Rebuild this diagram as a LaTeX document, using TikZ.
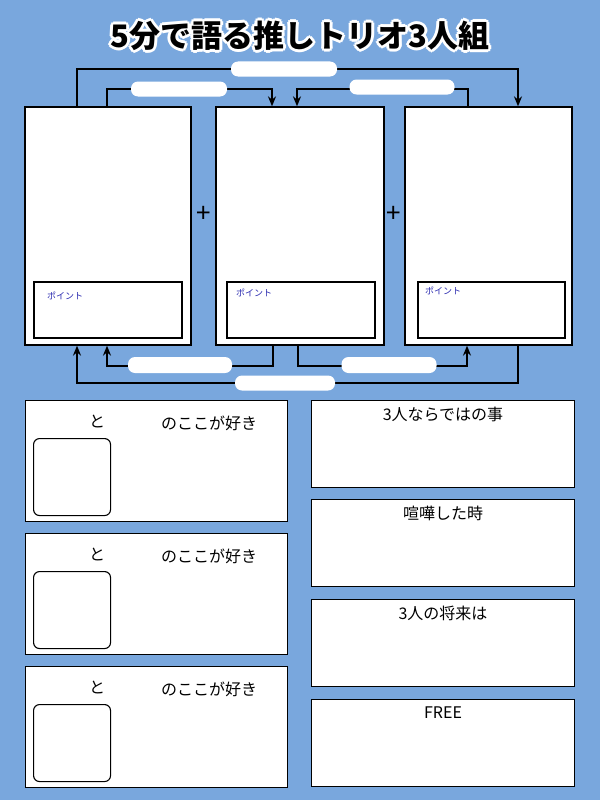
\documentclass[tikz,border=0pt]{standalone}
\usepackage{fontspec}
\setmainfont{Noto Sans CJK JP}
\usetikzlibrary{arrows.meta,calc}
\definecolor{fond}{HTML}{79A7DD}
\definecolor{pointe}{HTML}{2A2AB0}
\begin{document}
\begin{tikzpicture}[x=1pt,y=-1pt]
    % Styles
    \tikzset{
      panneau/.style={draw,fill=white,line width=1.3pt,rectangle,inner sep=0},
      fleche/.style={-{Stealth[length=10pt,width=8pt]},line width=1.4pt},
      pastille/.style={fill=white,rounded corners=7pt,inner sep=0},
      etiquette/.style={font=\fontsize{16}{16}\selectfont,anchor=north}
    }
    % Fond
    \fill[fond] (0,0) rectangle (600,800);
    \useasboundingbox (0,0) rectangle (600,800);
    % Titre
    \foreach \a in {0,45,...,315}
      \node[font=\bfseries\fontsize{31}{31}\selectfont,text=white] at ($(300,36)+(\a:3)$) {5分で語る推しトリオ3人組};
    \node[font=\bfseries\fontsize{31}{31}\selectfont] (titre) at (300,36) {5分で語る推しトリオ3人組};
    % Panneaux
    \node[panneau,minimum width=166,minimum height=238] (A) at (108,226) {};
    \node[panneau,minimum width=168,minimum height=238] (B) at (300,226) {};
    \node[panneau,minimum width=167,minimum height=238] (C) at (488.5,226) {};
    \node[panneau,line width=1.1pt,minimum width=148,minimum height=56] (Ap) at (108,310) {};
    \node[panneau,line width=1.1pt,minimum width=148,minimum height=56] (Bp) at (301,310) {};
    \node[panneau,line width=1.1pt,minimum width=147,minimum height=56] (Cp) at (491.5,310) {};
    \node[font=\fontsize{9}{9}\selectfont,text=pointe] (Apt) at (65,296) {ポイント};
    \node[font=\fontsize{9}{9}\selectfont,text=pointe] (Bpt) at (254,293) {ポイント};
    \node[font=\fontsize{9}{9}\selectfont,text=pointe] (Cpt) at (443,291) {ポイント};
    \node[font=\fontsize{26}{26}\selectfont] (plusA) at (204,214) {+};
    \node[font=\fontsize{26}{26}\selectfont] (plusB) at (394,214) {+};
    % Coins des fleches
    \coordinate (h1) at (518,69);
    \coordinate (h2) at (272,89);
    \coordinate (h3) at (297,89);
    \coordinate (b1) at (107,366);
    \coordinate (b2) at (467,366);
    \coordinate (b3) at (77,383);
    % Fleches du haut
    \draw[fleche] (A.north -| 77,0) |- (h1) -- (C.north -| h1);
    \draw[fleche] (A.north -| 107,0) |- (h2) -- (B.north -| h2);
    \draw[fleche] (C.north -| 468,0) |- (h3) -- (B.north -| h3);
    \node[pastille,minimum width=106,minimum height=15] (p1) at (284,69) {};
    \node[pastille,minimum width=96,minimum height=15] (p2) at (179,89) {};
    \node[pastille,minimum width=105,minimum height=15] (p3) at (402,87) {};
    % Fleches du bas
    \draw[fleche] (B.south -| 273,0) |- (b1) -- (A.south -| b1);
    \draw[fleche] (B.south -| 298,0) |- (b2) -- (C.south -| b2);
    \draw[fleche] (C.south -| 518,0) |- (b3) -- (A.south -| b3);
    \node[pastille,minimum width=104,minimum height=16] (p4) at (180,365) {};
    \node[pastille,minimum width=95,minimum height=16] (p5) at (389,365) {};
    \node[pastille,minimum width=100,minimum height=15] (p6) at (285,383) {};
    % Cases du bas a gauche
    \foreach \nom/\y in {G1/400,G2/533,G3/666}{
      \node[panneau,minimum width=262,minimum height=121,anchor=north west] (\nom) at (25,\y) {};
      \node[panneau,line width=1.1pt,rounded corners=6pt,minimum width=77,minimum height=77,anchor=north west] (\nom c) at (33,\y+38) {};
      \node[etiquette] (\nom t) at (97,\y+12) {と};
      \node[etiquette] (\nom s) at (209,\y+12) {のここが好き};
    }
    % Cases du bas a droite
    \foreach \nom/\y/\texte in {D1/400/3人ならではの事,D2/499/喧嘩した時,D3/599/3人の将来は,D4/699/FREE}{
      \node[panneau,minimum width=263,minimum height=87,anchor=north west] (\nom) at (311,\y) {};
      \node[etiquette] (\nom t) at (443,\y+4) {\texte};
    }
\end{tikzpicture}
\end{document}
